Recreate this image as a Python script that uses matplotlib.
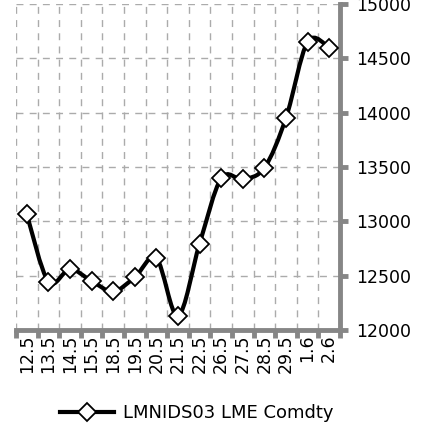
import numpy as np
import matplotlib
matplotlib.use("Agg")
import matplotlib.pyplot as plt
from matplotlib.path import Path
from matplotlib.patches import PathPatch
from matplotlib.lines import Line2D

categories = ["12.5", "13.5", "14.5", "15.5", "18.5", "19.5", "20.5", "21.5",
              "22.5", "26.5", "27.5", "28.5", "29.5", "1.6", "2.6"]
values = [13065, 12445, 12560, 12450, 12355, 12485, 12660, 12130,
          12795, 13395, 13388, 13492, 13952, 14652, 14598]
series_name = "LMNIDS03 LME Comdty"
y_ticks = [12000, 12500, 13000, 13500, 14000, 14500, 15000]

AXIS_C = "#868686"
GRID_C = "#ababab"
FS = 12.5

fig = plt.figure(figsize=(4.27, 4.28), dpi=100)
ax = fig.add_axes([16/427, 1-330/428, (340-16)/427, (330-4)/428])

n = len(values)
x = np.arange(n, dtype=float)
y = np.array(values, dtype=float)
P = np.column_stack([x, y])

# smoothed line (Excel-style Bezier smoothing)
verts = [tuple(P[0])]
codes = [Path.MOVETO]
for i in range(n - 1):
    pp = P[max(i - 1, 0)]
    pn = P[min(i + 2, n - 1)]
    c1 = P[i] + (P[i + 1] - pp) / 6.0
    c2 = P[i + 1] - (pn - P[i]) / 6.0
    verts += [tuple(c1), tuple(c2), tuple(P[i + 1])]
    codes += [Path.CURVE4] * 3
ax.add_patch(PathPatch(Path(verts, codes), fill=False, lw=3.0,
                       edgecolor="black", zorder=3, capstyle="round",
                       joinstyle="round"))
ax.plot(x, y, linestyle="none", marker="D", markersize=8.8,
        markerfacecolor="white", markeredgecolor="black",
        markeredgewidth=1.3, zorder=4)

ax.set_xlim(-0.5, n - 0.5)
ax.set_ylim(12000, 15000)

# x axis
ax.set_xticks(x)
ax.set_xticklabels(categories, rotation=90, fontsize=FS)
ax.set_xticks(np.arange(-0.5, n, 1.0), minor=True)
ax.tick_params(axis="x", which="major", length=0, pad=3)
ax.tick_params(axis="x", which="minor", length=5.5, width=3.5,
               color=AXIS_C, direction="out")

# y axis on right
ax.yaxis.tick_right()
ax.set_yticks(y_ticks)
ax.set_yticklabels([str(v) for v in y_ticks], fontsize=FS)
ax.tick_params(axis="y", which="major", length=5.5, width=3.5,
               color=AXIS_C, direction="out", pad=6)

for s in ["left", "top"]:
    ax.spines[s].set_visible(False)
for s in ["right", "bottom"]:
    ax.spines[s].set_color(AXIS_C)
    ax.spines[s].set_linewidth(3.5)
    ax.spines[s].set_capstyle("projecting")

# gridlines
for v in y_ticks[1:]:
    ax.axhline(v, color=GRID_C, lw=1.0, dashes=(5, 4.5), zorder=1)
for b in np.arange(-0.5, n - 1, 1.0):
    ax.axvline(b, color=GRID_C, lw=1.0, dashes=(5, 4.5), zorder=1)

handle = Line2D([], [], color="black", lw=3.0, marker="D", markersize=8.8,
                markerfacecolor="white", markeredgecolor="black",
                markeredgewidth=1.3)
fig.legend([handle], [series_name], loc="center",
           bbox_to_anchor=(197/427, 1-413/428), frameon=False,
           fontsize=13, handlelength=3.0, handletextpad=0.5, numpoints=1)

fig.savefig("out.png", dpi=100)
